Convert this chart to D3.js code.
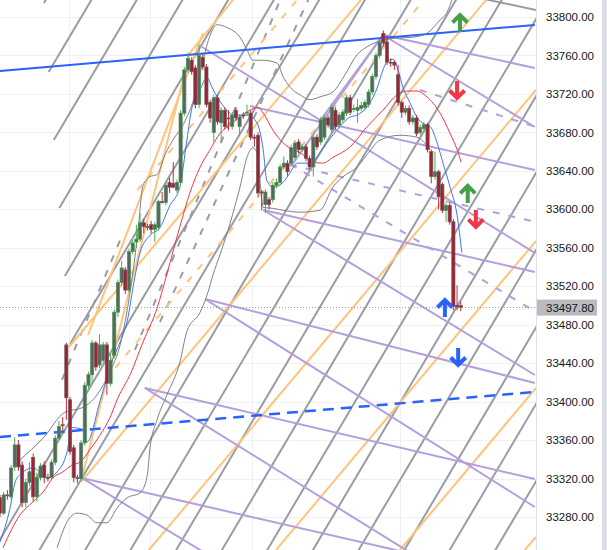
<!DOCTYPE html>
<html>
<head>
<meta charset="utf-8">
<script src="https://cdn.jsdelivr.net/npm/d3@7"></script>
<style>
  html, body { margin: 0; padding: 0; background: #fff; }
  svg { display: block; }
</style>
</head>
<body>
<div id="chart"></div>
<script>
// ---- price data, one bar per slot ----
const openP = [33300,33284,33303,33301,33332,33355,33334,33295,33316,33342,33301,33321,33334,33321,33321,33337,33362,33376,33459,33402,
  33352,33321,33320,33357,33417,33428,33461,33438,33443,33459,33419,33448,33493,33524,33537,33516,33556,33566,33569,33586,
  33582,33584,33579,33581,33608,33607,33628,33627,33620,33628,33700,33745,33755,33747,33709,33758,33748,33711,33680,33716,
  33690,33703,33695,33686,33703,33686,33698,33700,33700,33675,33677,33618,33605,33610,33610,33625,33628,33644,33648,33648,
  33654,33670,33662,33665,33653,33644,33675,33670,33675,33695,33683,33703,33688,33693,33700,33716,33705,33703,33705,33706,
  33709,33722,33738,33760,33783,33774,33753,33753,33740,33711,33701,33705,33691,33695,33680,33684,33688,33660,33634,33639,
  33626,33599,33604,33587,33500,33500];
const highP = [33303,33306,33308,33334,33363,33360,33338,33320,33337,33346,33326,33336,33338,33325,33340,33365,33380,33384,33461,33405,
  33355,33324,33360,33420,33431,33464,33463,33470,33462,33462,33450,33496,33527,33546,33540,33559,33568,33584,33596,33590,
  33585,33588,33587,33610,33618,33628,33633,33649,33631,33703,33748,33763,33758,33750,33771,33762,33751,33714,33719,33719,
  33706,33706,33703,33701,33706,33699,33701,33709,33703,33678,33680,33620,33621,33613,33628,33632,33647,33655,33651,33667,
  33672,33673,33668,33668,33656,33678,33678,33696,33698,33698,33710,33706,33701,33704,33719,33719,33709,33715,33712,33714,
  33725,33741,33763,33777,33786,33781,33757,33755,33750,33713,33708,33708,33698,33698,33688,33691,33690,33662,33660,33641,
  33628,33607,33607,33590,33521,33504];
const lowP = [33280,33282,33298,33298,33328,33328,33290,33290,33312,33296,33296,33318,33315,33317,33318,33334,33360,33370,33381,33345,
  33316,33315,33317,33354,33414,33420,33432,33435,33440,33407,33416,33445,33488,33520,33512,33513,33553,33560,33566,33575,
  33578,33575,33566,33578,33606,33604,33617,33622,33617,33626,33697,33742,33740,33705,33705,33745,33706,33690,33670,33688,
  33670,33683,33682,33683,33692,33677,33694,33697,33672,33665,33612,33599,33596,33600,33607,33622,33625,33641,33635,33645,
  33651,33658,33660,33650,33641,33634,33662,33667,33672,33685,33680,33683,33684,33690,33697,33698,33701,33690,33702,33703,
  33706,33719,33735,33757,33770,33750,33748,33745,33708,33695,33698,33688,33688,33676,33677,33681,33659,33627,33631,33600,
  33596,33587,33584,33495,33495,33494];
const closeP = [33284,33303,33302,33331,33355,33332,33295,33316,33327,33301,33321,33333,33321,33320,33337,33362,33374,33375,33404,33348,
  33321,33320,33357,33417,33428,33461,33436,33459,33459,33419,33443,33493,33524,33539,33516,33556,33565,33569,33586,33582,
  33581,33579,33584,33608,33607,33625,33623,33623,33628,33700,33745,33757,33743,33709,33760,33748,33709,33695,33716,33691,
  33703,33686,33694,33698,33695,33696,33697,33701,33675,33674,33617,33617,33618,33605,33625,33628,33644,33648,33639,33664,
  33669,33662,33665,33653,33644,33675,33665,33693,33695,33688,33706,33686,33698,33701,33716,33701,33705,33706,33708,33711,
  33722,33738,33760,33774,33773,33753,33752,33750,33711,33701,33705,33691,33695,33679,33685,33688,33662,33634,33639,33613,
  33599,33604,33587,33499,33498,33497.8];
const lastPrice = 33497.8;

// indicator lines as [bar, price]
const maFast = [[0,33254],[2.7,33289],[4.1,33316],[5.4,33324],[9,33331],[12.8,33321],[15.5,33327],[18.2,33348],[19.5,33373],
  [22.5,33371],[23.6,33358],[27.1,33400],[29,33425],[30.7,33445],[32.6,33462],[34.7,33487],[36.1,33519],[38,33555],[40.7,33573],
  [43.4,33581],[46.1,33604],[48.8,33623],[50.7,33672],[52.1,33706],[53.7,33719],[56.2,33737],[57.5,33727],[58.9,33717],
  [61.6,33703],[63.2,33698],[67,33698],[69.7,33690],[71.4,33662],[72.4,33630],[74.1,33623],[76.8,33628],[78.7,33638],
  [80.6,33648],[84.1,33648],[86.8,33659],[88.7,33669],[92.2,33686],[95,33696],[96.9,33698],[100.4,33711],[102.3,33726],
  [103.9,33745],[105.3,33755],[106.6,33756],[108,33745],[109.3,33727],[111.2,33711],[113.1,33696],[115.3,33688],[116.7,33686],
  [118.6,33669],[120.2,33648],[122.1,33623],[124,33594],[125.3,33555]];
const maSlow = [[0.8,33248],[5.4,33282],[9,33296],[11.7,33306],[14.4,33321],[17.1,33327],[19.5,33334],[21.7,33337],[24.4,33350],
  [27.1,33365],[29.8,33383],[32,33404],[35.3,33428],[38.8,33462],[42.6,33497],[45.3,33533],[48.8,33582],[51.5,33617],[54.3,33644],
  [57,33662],[59.7,33679],[62.4,33688],[65.1,33696],[67.8,33703],[70,33706],[71.4,33700],[74.1,33682],[76.8,33669],[79.5,33662],
  [81.4,33659],[84.9,33649],[87.6,33648],[90.3,33654],[95,33665],[99.6,33686],[103.9,33703],[107.7,33719],[110.4,33723],
  [113.1,33723],[115.8,33717],[119.4,33700],[122.1,33679],[124.3,33659],[125.1,33649]];
const bandUpper = [[4.1,33334],[5.4,33339],[11.7,33362],[17.6,33389],[22.5,33394],[26.3,33407],[29.8,33431],[32.6,33459],
  [35.3,33514],[37.4,33576],[38.8,33625],[40.7,33634],[42.6,33636],[44.8,33657],[46.9,33672],[49.7,33688],[52.9,33719],
  [55.1,33755],[57,33781],[58.9,33792],[61.6,33789],[65.1,33779],[67,33766],[68.6,33755],[71.4,33755],[75.2,33752],
  [76.8,33738],[78.7,33727],[81.4,33719],[84.1,33714],[86.8,33717],[90.3,33722],[93.6,33740],[96.9,33761],[99.6,33769],
  [103.9,33776],[107.2,33778],[112.1,33779],[115.8,33783],[119.4,33797],[121.3,33805],[122.6,33818]];
const bandLower = [[15.5,33248],[18.2,33275],[20.9,33284],[23.6,33282],[26.3,33274],[29,33274],[31.7,33289],[34.5,33300],
  [38,33305],[39.9,33322],[40.7,33352],[42.6,33381],[45.3,33407],[48.8,33441],[50.7,33473],[54.3,33493],[56.2,33511],
  [57.8,33532],[59.7,33553],[61.6,33575],[63.2,33596],[65.1,33623],[67,33654],[68.6,33664],[69.7,33659],[70.5,33631],
  [71.4,33602],[74.1,33601],[76.8,33599],[81.4,33597],[86.8,33599],[90.3,33623],[93.1,33634],[96.9,33644],[99.6,33657],
  [103.1,33672],[108.5,33677],[113.1,33675],[116.7,33662]];

// drawings, each [bar1, price1, bar2, price2]
const gannGrey = [[11.9,33814.6,14.0,33828.1],[13.2,33742.8,26.4,33828.1],[14.6,33672.1,38.7,33828.1],
  [16.1,33601.4,51.1,33828.1],[17.6,33530.7,63.5,33828.1],[19.0,33460.0,75.9,33828.1],
  [-3.3,33235.3,88.2,33828.1],[9.1,33235.3,100.6,33828.1],[21.5,33235.3,113.0,33828.1],[33.8,33235.3,125.3,33828.1],
  [46.2,33235.3,137.7,33828.1],[58.6,33235.3,150.1,33828.1],[70.9,33235.3,162.5,33828.1],[83.3,33235.3,174.8,33828.1],
  [95.7,33235.3,187.2,33828.1],[108.1,33235.3,199.6,33828.1],[120.4,33235.3,211.9,33828.1],[132.8,33235.3,224.3,33828.1],
  [127.5,33821.8,145.4,33807.3]];
const gannGreyDash = [[36.6,33453.7,76.0,33817.7],[43.4,33482.8,83.6,33817.7],[16.8,33422.5,32.6,33568.1]];
const gannOrange = [[51.5,33762.6,63.2,33817.7],[18.7,33456.8,97.9,33817.7],[22.2,33317.4,131.9,33817.7],
  [40.4,33245.7,145.4,33724.1],[74.9,33245.7,145.4,33567.0],[108.5,33245.7,145.4,33414.2],[142.4,33245.7,145.4,33259.2],
  [22.2,33320.6,51.5,33762.6],[23.9,33469.3,55.1,33783.4]];
const gannOrangeDash = [[37.3,33620.1,80.6,33817.7],[28.5,33422.5,115.0,33817.7]];
const fanPurple = [[103.9,33781.3,145.1,33747.0],[103.9,33781.3,145.1,33685.6],[67.8,33707.4,145.1,33640.9],
  [54.8,33768.8,145.1,33554.6],[71.4,33599.3,145.1,33534.8],[71.4,33599.3,145.1,33427.7],
  [55.6,33506.7,145.1,33419.4],[55.6,33506.7,145.1,33290.4],[39.3,33414.2,145.1,33319.5],[39.3,33414.2,145.1,33162.5],
  [22.2,33320.6,145.1,33212.4],[22.2,33320.6,145.1,33033.5],[103.9,33781.3,86.8,33691.9],[103.9,33781.3,79.2,33646.1]];
const fanPurpleDash = [[113.9,33724.1,145.4,33685.6],[78.7,33646.1,145.4,33586.8],[78.7,33647.1,145.4,33493.2]];
const trendSolid = [[0,33743.9,145.1,33791.7]];
const trendDash = [[0,33363.2,145.1,33410.0]];

// signal arrows [bar, price, direction, colour]
const arrows = [[124.8,33793.8,'up','#43a047'],[124,33724.1,'down','#f23645'],[126.9,33616,'up','#43a047'],
  [129.1,33590,'down','#f23645'],[120.7,33497.4,'up','#2962ff'],[124.3,33446.4,'down','#2962ff']];

const priceTicks = [33800,33760,33720,33680,33640,33600,33560,33520,33480,33440,33400,33360,33320,33280];
const timeGrid = [18.7, 40.7, 68.4, 108.5];

// ---- layout ----
const width = 607, height = 550, plotW = 536;

const x = d3.scaleLinear().domain([0, 125]).range([0, 460.75]);
const y = d3.scaleLinear().domain([33280, 33800]).range([517, 17]);

const svg = d3.select('#chart').append('svg')
  .attr('width', width)
  .attr('height', height)
  .style('font-family', "'Liberation Sans', Arial, sans-serif");

svg.append('defs').append('clipPath').attr('id', 'plot')
  .append('rect').attr('x', 0).attr('y', 0).attr('width', plotW).attr('height', height);

const plot = svg.append('g').attr('clip-path', 'url(#plot)');

// grid
plot.append('g').selectAll('line').data(priceTicks).join('line')
  .attr('x1', 0).attr('x2', plotW)
  .attr('y1', d => Math.round(y(d)) + 0.5).attr('y2', d => Math.round(y(d)) + 0.5)
  .attr('stroke', '#eef0f4').attr('stroke-width', 1);
plot.append('g').selectAll('line').data(timeGrid).join('line')
  .attr('x1', d => Math.round(x(d)) + 0.5).attr('x2', d => Math.round(x(d)) + 0.5)
  .attr('y1', 0).attr('y2', height)
  .attr('stroke', '#eef0f4').attr('stroke-width', 1);

// drawing helper
function drawSegs(list, color, w, dash) {
  plot.append('g').selectAll('line').data(list).join('line')
    .attr('x1', d => x(d[0])).attr('y1', d => y(d[1]))
    .attr('x2', d => x(d[2])).attr('y2', d => y(d[3]))
    .attr('stroke', color)
    .attr('stroke-width', w)
    .attr('stroke-dasharray', dash || null)
    .attr('stroke-linecap', 'butt');
}

drawSegs(gannGrey, '#9a9ca3', 2);
drawSegs(gannGreyDash, '#9a9ca3', 2, '7,9');
drawSegs(gannOrange, '#ffc47a', 2);
drawSegs(gannOrangeDash, '#ffc47a', 2, '7,9');
drawSegs(fanPurple, '#b49fdc', 2);
drawSegs(fanPurpleDash, '#b49fdc', 2, '7,9');
drawSegs(trendSolid, '#2962ff', 2);
drawSegs(trendDash, '#2962ff', 2.5, '11,7');

// bands and moving averages
const line = d3.line().x(d => x(d[0])).y(d => y(d[1])).curve(d3.curveMonotoneX);
plot.append('path').datum(bandUpper).attr('d', line)
  .attr('fill', 'none').attr('stroke', '#7e8089').attr('stroke-width', 1);
plot.append('path').datum(bandLower).attr('d', line)
  .attr('fill', 'none').attr('stroke', '#7e8089').attr('stroke-width', 1);
plot.append('path').datum(maSlow).attr('d', line)
  .attr('fill', 'none').attr('stroke', '#f23645').attr('stroke-width', 1);
plot.append('path').datum(maFast).attr('d', line)
  .attr('fill', 'none').attr('stroke', '#3d74f5').attr('stroke-width', 1);

// candles
const bars = d3.range(closeP.length).map(i => ({
  i, o: openP[i], h: highP[i], l: lowP[i], c: closeP[i], up: closeP[i] >= openP[i]
}));
const candle = plot.append('g').selectAll('g').data(bars).join('g');
candle.append('line')
  .attr('x1', d => x(d.i)).attr('x2', d => x(d.i))
  .attr('y1', d => y(d.h)).attr('y2', d => y(d.l))
  .attr('stroke', d => d.up ? '#4caf50' : '#c62834')
  .attr('stroke-width', 1);
candle.append('rect')
  .attr('x', d => x(d.i) - 1.6)
  .attr('width', 3.2)
  .attr('y', d => y(Math.max(d.o, d.c)))
  .attr('height', d => Math.max(1, Math.abs(y(d.o) - y(d.c))))
  .attr('fill', d => d.up ? '#5f6168' : '#a3202f')
  .attr('stroke', d => d.up ? '#3f9c44' : '#5f6168')
  .attr('stroke-width', 0.7);

// last price dotted line
plot.append('line')
  .attr('x1', 0).attr('x2', plotW)
  .attr('y1', y(lastPrice)).attr('y2', y(lastPrice))
  .attr('stroke', '#9598a1').attr('stroke-width', 1).attr('stroke-dasharray', '1,2');

// arrows
plot.append('g').selectAll('path').data(arrows).join('path')
  .attr('transform', d => `translate(${x(d[0])},${y(d[1])})`)
  .attr('d', d => d[2] === 'up'
    ? 'M0,9 L0,-8 M-7.5,-0.5 L0,-8 L7.5,-0.5'
    : 'M0,-9 L0,8 M-7.5,0.5 L0,8 L7.5,0.5')
  .attr('fill', 'none')
  .attr('stroke', d => d[3])
  .attr('stroke-width', 4)
  .attr('stroke-linejoin', 'miter');

// price axis
svg.append('line')
  .attr('x1', plotW + 0.5).attr('x2', plotW + 0.5).attr('y1', 0).attr('y2', height)
  .attr('stroke', '#e0e3eb');
svg.append('rect').attr('x', 602).attr('y', 0).attr('width', 5).attr('height', height).attr('fill', '#dcdee3');

svg.append('g').selectAll('text').data(priceTicks).join('text')
  .attr('x', 546).attr('y', d => y(d)).attr('dy', '0.36em')
  .attr('font-size', 11.5).attr('fill', '#131722')
  .text(d => d3.format('.2f')(d));

svg.append('rect')
  .attr('x', 537).attr('y', y(lastPrice) - 8).attr('width', 60).attr('height', 16)
  .attr('fill', '#b9bbc1');
svg.append('text')
  .attr('x', 546).attr('y', y(lastPrice)).attr('dy', '0.36em')
  .attr('font-size', 11.5).attr('fill', '#131722')
  .text(d3.format('.2f')(lastPrice));
</script>
</body>
</html>
